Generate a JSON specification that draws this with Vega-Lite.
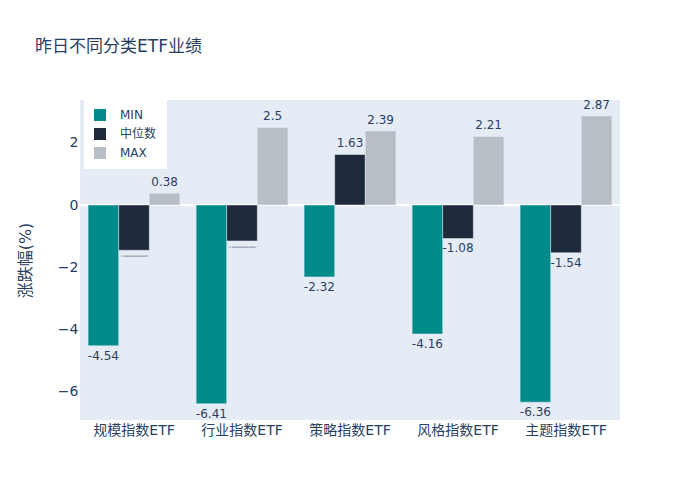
{
  "$schema": "https://vega.github.io/schema/vega-lite/v6.json",
  "width": 540,
  "height": 320,
  "autosize": {"type": "none"},
  "padding": {"left": 80, "top": 100, "right": 80, "bottom": 80},
  "background": "white",
  "config": {
    "view": {"fill": "#E5ECF6", "stroke": null},
    "font": "DejaVu Sans, Noto Sans CJK SC, sans-serif"
  },
  "title": {
    "text": "昨日不同分类ETF业绩",
    "anchor": "start",
    "frame": "group",
    "dx": -45,
    "offset": 43,
    "fontSize": 17,
    "fontWeight": "normal",
    "color": "#2a3f5f"
  },
  "data": {
    "values": [
      {"cat": "规模指数ETF", "series": "MIN", "value": -4.54, "label": "-4.54"},
      {"cat": "规模指数ETF", "series": "中位数", "value": -1.46, "label": "-1.4600000000000002"},
      {"cat": "规模指数ETF", "series": "MAX", "value": 0.38, "label": "0.38"},
      {"cat": "行业指数ETF", "series": "MIN", "value": -6.41, "label": "-6.41"},
      {"cat": "行业指数ETF", "series": "中位数", "value": -1.16, "label": "-1.1600000000000001"},
      {"cat": "行业指数ETF", "series": "MAX", "value": 2.5, "label": "2.5"},
      {"cat": "策略指数ETF", "series": "MIN", "value": -2.32, "label": "-2.32"},
      {"cat": "策略指数ETF", "series": "中位数", "value": 1.63, "label": "1.63"},
      {"cat": "策略指数ETF", "series": "MAX", "value": 2.39, "label": "2.39"},
      {"cat": "风格指数ETF", "series": "MIN", "value": -4.16, "label": "-4.16"},
      {"cat": "风格指数ETF", "series": "中位数", "value": -1.08, "label": "-1.08"},
      {"cat": "风格指数ETF", "series": "MAX", "value": 2.21, "label": "2.21"},
      {"cat": "主题指数ETF", "series": "MIN", "value": -6.36, "label": "-6.36"},
      {"cat": "主题指数ETF", "series": "中位数", "value": -1.54, "label": "-1.54"},
      {"cat": "主题指数ETF", "series": "MAX", "value": 2.87, "label": "2.87"}
    ]
  },
  "layer": [
    {
      "mark": {"type": "rule", "color": "white", "strokeWidth": 2},
      "encoding": {"y": {"datum": 0, "type": "quantitative"}}
    },
    {
      "mark": {"type": "bar", "stroke": "#E5ECF6", "strokeWidth": 0.5},
      "encoding": {
        "x": {
          "field": "cat", "type": "nominal",
          "sort": ["规模指数ETF", "行业指数ETF", "策略指数ETF", "风格指数ETF", "主题指数ETF"],
          "scale": {"paddingInner": 0.15, "paddingOuter": 0.075},
          "axis": {"title": null, "labelAngle": 0, "domain": false, "ticks": false, "labelFontSize": 14, "labelColor": "#2a3f5f", "labelPadding": 3}
        },
        "xOffset": {"field": "series", "type": "nominal", "sort": ["MIN", "中位数", "MAX"], "scale": {"paddingInner": 0, "paddingOuter": 0}},
        "y": {
          "field": "value", "type": "quantitative",
          "scale": {"domain": [-6.935, 3.387], "nice": false, "zero": false},
          "axis": {
            "title": "涨跌幅(%)", "titleFontSize": 16, "titleFontWeight": "normal", "titleColor": "#2a3f5f",
            "titlePadding": 24,
            "values": [-6, -4, -2, 0, 2], "gridColor": "white", "gridWidth": 1,
            "domain": false, "ticks": false, "labelFontSize": 14, "labelColor": "#2a3f5f", "labelPadding": 2
          }
        },
        "color": {
          "field": "series", "type": "nominal",
          "scale": {"domain": ["MIN", "中位数", "MAX"], "range": ["#008B8B", "#1E293B", "#B8BEC6"]},
          "legend": {
            "title": null, "orient": "none", "legendX": 4, "legendY": -1,
            "fillColor": "white", "padding": 10, "symbolType": "square", "symbolSize": 144,
            "symbolStrokeWidth": 0, "labelFontSize": 12, "labelColor": "#2a3f5f",
            "labelOffset": 14, "rowPadding": 7
          }
        }
      }
    },
    {
      "transform": [{"filter": "datum.value < 0"}],
      "mark": {"type": "text", "baseline": "top", "dy": 5, "color": "#2a3f5f", "fontSize": 12},
      "encoding": {
        "x": {"field": "cat", "type": "nominal", "sort": ["规模指数ETF", "行业指数ETF", "策略指数ETF", "风格指数ETF", "主题指数ETF"]},
        "xOffset": {"field": "series", "type": "nominal", "sort": ["MIN", "中位数", "MAX"]},
        "y": {"field": "value", "type": "quantitative"},
        "text": {"field": "label"},
        "size": {"condition": {"test": "length(datum.label) > 8", "value": 2.4}, "value": 12}
      }
    },
    {
      "transform": [{"filter": "datum.value >= 0"}],
      "mark": {"type": "text", "baseline": "bottom", "dy": -4, "color": "#2a3f5f", "fontSize": 12},
      "encoding": {
        "x": {"field": "cat", "type": "nominal", "sort": ["规模指数ETF", "行业指数ETF", "策略指数ETF", "风格指数ETF", "主题指数ETF"]},
        "xOffset": {"field": "series", "type": "nominal", "sort": ["MIN", "中位数", "MAX"]},
        "y": {"field": "value", "type": "quantitative"},
        "text": {"field": "label"}
      }
    }
  ]
}
